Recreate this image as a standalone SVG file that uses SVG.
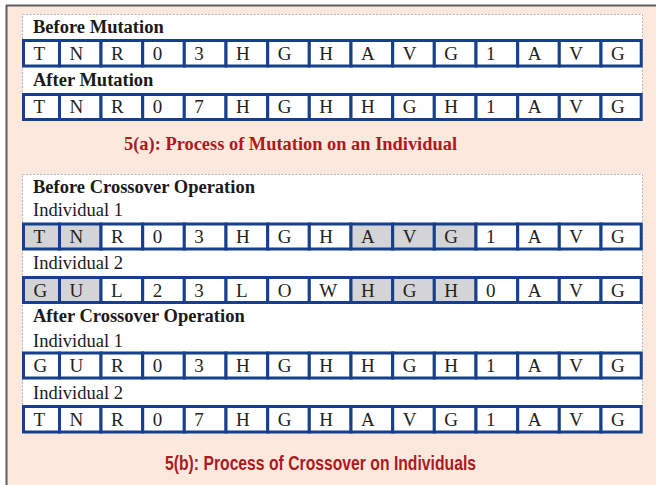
<svg xmlns="http://www.w3.org/2000/svg" width="656" height="485" viewBox="0 0 656 485">
<style>
.bg{fill:#FCE8DD}
.panel{fill:#FFFFFF;stroke:#AEB6C6;stroke-width:1;stroke-dasharray:2,1.5}
.c{fill:#FFFFFF;stroke:#163F8C;stroke-width:3}
.s{fill:#D4D4D6;stroke:#163F8C;stroke-width:3}
.t{font-family:"Liberation Serif","Times New Roman",serif;font-size:19px;fill:#222222}
.h{font-family:"Liberation Serif","Times New Roman",serif;font-size:18.5px;font-weight:bold;fill:#1a1a1a}
.l{font-family:"Liberation Serif","Times New Roman",serif;font-size:18.5px;fill:#1a1a1a}
.cap1{font-family:"Liberation Serif","Times New Roman",serif;font-size:19.5px;font-weight:bold;fill:#AC1A1E}
.cap2{font-family:"Liberation Sans",Arial,sans-serif;font-size:19.5px;font-weight:bold;fill:#AC1A1E}
</style>
<rect x="0" y="0" width="656" height="485" fill="#FFFFFF"/>
<rect class="bg" x="6" y="5" width="650" height="480"/>
<line x1="6.5" y1="5" x2="6.5" y2="485" stroke="#5F5F5F" stroke-width="2"/>
<line x1="6" y1="5.5" x2="656" y2="5.5" stroke="#5F5F5F" stroke-width="2"/>

<g id="panel-mutation">
<rect class="panel" x="22.5" y="14.5" width="620" height="80"/>
<text class="h" x="33" y="32.7">Before Mutation</text>
<text class="h" x="33" y="86">After Mutation</text>
</g>
<g id="panel-crossover">
<rect class="panel" x="22.5" y="174.5" width="620" height="232"/>
<text class="h" x="33" y="193">Before Crossover Operation</text>
<text class="l" x="33" y="216">Individual 1</text>
<text class="l" x="33" y="269">Individual 2</text>
<text class="h" x="33" y="322">After Crossover Operation</text>
<text class="l" x="33" y="346.5">Individual 1</text>
<text class="l" x="33" y="398.5">Individual 2</text>
</g>

<g id="row-before-mutation">
<rect class="c" x="23.5" y="40.5" width="36" height="25.5"/><rect class="c" x="59.5" y="40.5" width="41.5" height="25.5"/><rect class="c" x="101" y="40.5" width="41.7" height="25.5"/><rect class="c" x="142.7" y="40.5" width="41.6" height="25.5"/><rect class="c" x="184.3" y="40.5" width="41.7" height="25.5"/><rect class="c" x="226" y="40.5" width="41.7" height="25.5"/><rect class="c" x="267.7" y="40.5" width="41.6" height="25.5"/><rect class="c" x="309.3" y="40.5" width="41.7" height="25.5"/><rect class="c" x="351" y="40.5" width="41.7" height="25.5"/><rect class="c" x="392.7" y="40.5" width="41.6" height="25.5"/><rect class="c" x="434.3" y="40.5" width="41.7" height="25.5"/><rect class="c" x="476" y="40.5" width="41.7" height="25.5"/><rect class="c" x="517.7" y="40.5" width="41.6" height="25.5"/><rect class="c" x="559.3" y="40.5" width="41.7" height="25.5"/><rect class="c" x="601" y="40.5" width="40.2" height="25.5"/>
<text class="t" y="59.5"><tspan x="33.5">T</tspan><tspan x="69.5">N</tspan><tspan x="111">R</tspan><tspan x="152.7">0</tspan><tspan x="194.3">3</tspan><tspan x="236">H</tspan><tspan x="277.7">G</tspan><tspan x="319.3">H</tspan><tspan x="361">A</tspan><tspan x="402.7">V</tspan><tspan x="444.3">G</tspan><tspan x="486">1</tspan><tspan x="527.7">A</tspan><tspan x="569.3">V</tspan><tspan x="611">G</tspan></text>
</g>

<g id="row-after-mutation">
<rect class="c" x="23.5" y="94.5" width="36" height="25"/><rect class="c" x="59.5" y="94.5" width="41.5" height="25"/><rect class="c" x="101" y="94.5" width="41.7" height="25"/><rect class="c" x="142.7" y="94.5" width="41.6" height="25"/><rect class="c" x="184.3" y="94.5" width="41.7" height="25"/><rect class="c" x="226" y="94.5" width="41.7" height="25"/><rect class="c" x="267.7" y="94.5" width="41.6" height="25"/><rect class="c" x="309.3" y="94.5" width="41.7" height="25"/><rect class="c" x="351" y="94.5" width="41.7" height="25"/><rect class="c" x="392.7" y="94.5" width="41.6" height="25"/><rect class="c" x="434.3" y="94.5" width="41.7" height="25"/><rect class="c" x="476" y="94.5" width="41.7" height="25"/><rect class="c" x="517.7" y="94.5" width="41.6" height="25"/><rect class="c" x="559.3" y="94.5" width="41.7" height="25"/><rect class="c" x="601" y="94.5" width="40.2" height="25"/>
<text class="t" y="113"><tspan x="33.5">T</tspan><tspan x="69.5">N</tspan><tspan x="111">R</tspan><tspan x="152.7">0</tspan><tspan x="194.3">7</tspan><tspan x="236">H</tspan><tspan x="277.7">G</tspan><tspan x="319.3">H</tspan><tspan x="361">H</tspan><tspan x="402.7">G</tspan><tspan x="444.3">H</tspan><tspan x="486">1</tspan><tspan x="527.7">A</tspan><tspan x="569.3">V</tspan><tspan x="611">G</tspan></text>
</g>

<text class="cap1" x="124" y="150" textLength="333" lengthAdjust="spacingAndGlyphs">5(a): Process of Mutation on an Individual</text>

<g id="row-before-ind1">
<rect class="s" x="23.5" y="224" width="36" height="25"/><rect class="s" x="59.5" y="224" width="41.5" height="25"/><rect class="c" x="101" y="224" width="41.7" height="25"/><rect class="c" x="142.7" y="224" width="41.6" height="25"/><rect class="c" x="184.3" y="224" width="41.7" height="25"/><rect class="c" x="226" y="224" width="41.7" height="25"/><rect class="c" x="267.7" y="224" width="41.6" height="25"/><rect class="c" x="309.3" y="224" width="41.7" height="25"/><rect class="s" x="351" y="224" width="41.7" height="25"/><rect class="s" x="392.7" y="224" width="41.6" height="25"/><rect class="s" x="434.3" y="224" width="41.7" height="25"/><rect class="c" x="476" y="224" width="41.7" height="25"/><rect class="c" x="517.7" y="224" width="41.6" height="25"/><rect class="c" x="559.3" y="224" width="41.7" height="25"/><rect class="c" x="601" y="224" width="40.2" height="25"/>
<text class="t" y="243"><tspan x="33.5">T</tspan><tspan x="69.5">N</tspan><tspan x="111">R</tspan><tspan x="152.7">0</tspan><tspan x="194.3">3</tspan><tspan x="236">H</tspan><tspan x="277.7">G</tspan><tspan x="319.3">H</tspan><tspan x="361">A</tspan><tspan x="402.7">V</tspan><tspan x="444.3">G</tspan><tspan x="486">1</tspan><tspan x="527.7">A</tspan><tspan x="569.3">V</tspan><tspan x="611">G</tspan></text>
</g>

<g id="row-before-ind2">
<rect class="s" x="23.5" y="277.5" width="36" height="25"/><rect class="s" x="59.5" y="277.5" width="41.5" height="25"/><rect class="c" x="101" y="277.5" width="41.7" height="25"/><rect class="c" x="142.7" y="277.5" width="41.6" height="25"/><rect class="c" x="184.3" y="277.5" width="41.7" height="25"/><rect class="c" x="226" y="277.5" width="41.7" height="25"/><rect class="c" x="267.7" y="277.5" width="41.6" height="25"/><rect class="c" x="309.3" y="277.5" width="41.7" height="25"/><rect class="s" x="351" y="277.5" width="41.7" height="25"/><rect class="s" x="392.7" y="277.5" width="41.6" height="25"/><rect class="s" x="434.3" y="277.5" width="41.7" height="25"/><rect class="c" x="476" y="277.5" width="41.7" height="25"/><rect class="c" x="517.7" y="277.5" width="41.6" height="25"/><rect class="c" x="559.3" y="277.5" width="41.7" height="25"/><rect class="c" x="601" y="277.5" width="40.2" height="25"/>
<text class="t" y="296.5"><tspan x="33.5">G</tspan><tspan x="69.5">U</tspan><tspan x="111">L</tspan><tspan x="152.7">2</tspan><tspan x="194.3">3</tspan><tspan x="236">L</tspan><tspan x="277.7">O</tspan><tspan x="319.3">W</tspan><tspan x="361">H</tspan><tspan x="402.7">G</tspan><tspan x="444.3">H</tspan><tspan x="486">0</tspan><tspan x="527.7">A</tspan><tspan x="569.3">V</tspan><tspan x="611">G</tspan></text>
</g>

<g id="row-after-ind1">
<rect class="c" x="23.5" y="353" width="36" height="25"/><rect class="c" x="59.5" y="353" width="41.5" height="25"/><rect class="c" x="101" y="353" width="41.7" height="25"/><rect class="c" x="142.7" y="353" width="41.6" height="25"/><rect class="c" x="184.3" y="353" width="41.7" height="25"/><rect class="c" x="226" y="353" width="41.7" height="25"/><rect class="c" x="267.7" y="353" width="41.6" height="25"/><rect class="c" x="309.3" y="353" width="41.7" height="25"/><rect class="c" x="351" y="353" width="41.7" height="25"/><rect class="c" x="392.7" y="353" width="41.6" height="25"/><rect class="c" x="434.3" y="353" width="41.7" height="25"/><rect class="c" x="476" y="353" width="41.7" height="25"/><rect class="c" x="517.7" y="353" width="41.6" height="25"/><rect class="c" x="559.3" y="353" width="41.7" height="25"/><rect class="c" x="601" y="353" width="40.2" height="25"/>
<text class="t" y="372"><tspan x="33.5">G</tspan><tspan x="69.5">U</tspan><tspan x="111">R</tspan><tspan x="152.7">0</tspan><tspan x="194.3">3</tspan><tspan x="236">H</tspan><tspan x="277.7">G</tspan><tspan x="319.3">H</tspan><tspan x="361">H</tspan><tspan x="402.7">G</tspan><tspan x="444.3">H</tspan><tspan x="486">1</tspan><tspan x="527.7">A</tspan><tspan x="569.3">V</tspan><tspan x="611">G</tspan></text>
</g>

<g id="row-after-ind2">
<rect class="c" x="23.5" y="406.5" width="36" height="25.5"/><rect class="c" x="59.5" y="406.5" width="41.5" height="25.5"/><rect class="c" x="101" y="406.5" width="41.7" height="25.5"/><rect class="c" x="142.7" y="406.5" width="41.6" height="25.5"/><rect class="c" x="184.3" y="406.5" width="41.7" height="25.5"/><rect class="c" x="226" y="406.5" width="41.7" height="25.5"/><rect class="c" x="267.7" y="406.5" width="41.6" height="25.5"/><rect class="c" x="309.3" y="406.5" width="41.7" height="25.5"/><rect class="c" x="351" y="406.5" width="41.7" height="25.5"/><rect class="c" x="392.7" y="406.5" width="41.6" height="25.5"/><rect class="c" x="434.3" y="406.5" width="41.7" height="25.5"/><rect class="c" x="476" y="406.5" width="41.7" height="25.5"/><rect class="c" x="517.7" y="406.5" width="41.6" height="25.5"/><rect class="c" x="559.3" y="406.5" width="41.7" height="25.5"/><rect class="c" x="601" y="406.5" width="40.2" height="25.5"/>
<text class="t" y="425.5"><tspan x="33.5">T</tspan><tspan x="69.5">N</tspan><tspan x="111">R</tspan><tspan x="152.7">0</tspan><tspan x="194.3">7</tspan><tspan x="236">H</tspan><tspan x="277.7">G</tspan><tspan x="319.3">H</tspan><tspan x="361">A</tspan><tspan x="402.7">V</tspan><tspan x="444.3">G</tspan><tspan x="486">1</tspan><tspan x="527.7">A</tspan><tspan x="569.3">V</tspan><tspan x="611">G</tspan></text>
</g>

<text class="cap2" x="165" y="470" textLength="311" lengthAdjust="spacingAndGlyphs">5(b): Process of Crossover on Individuals</text>
</svg>
